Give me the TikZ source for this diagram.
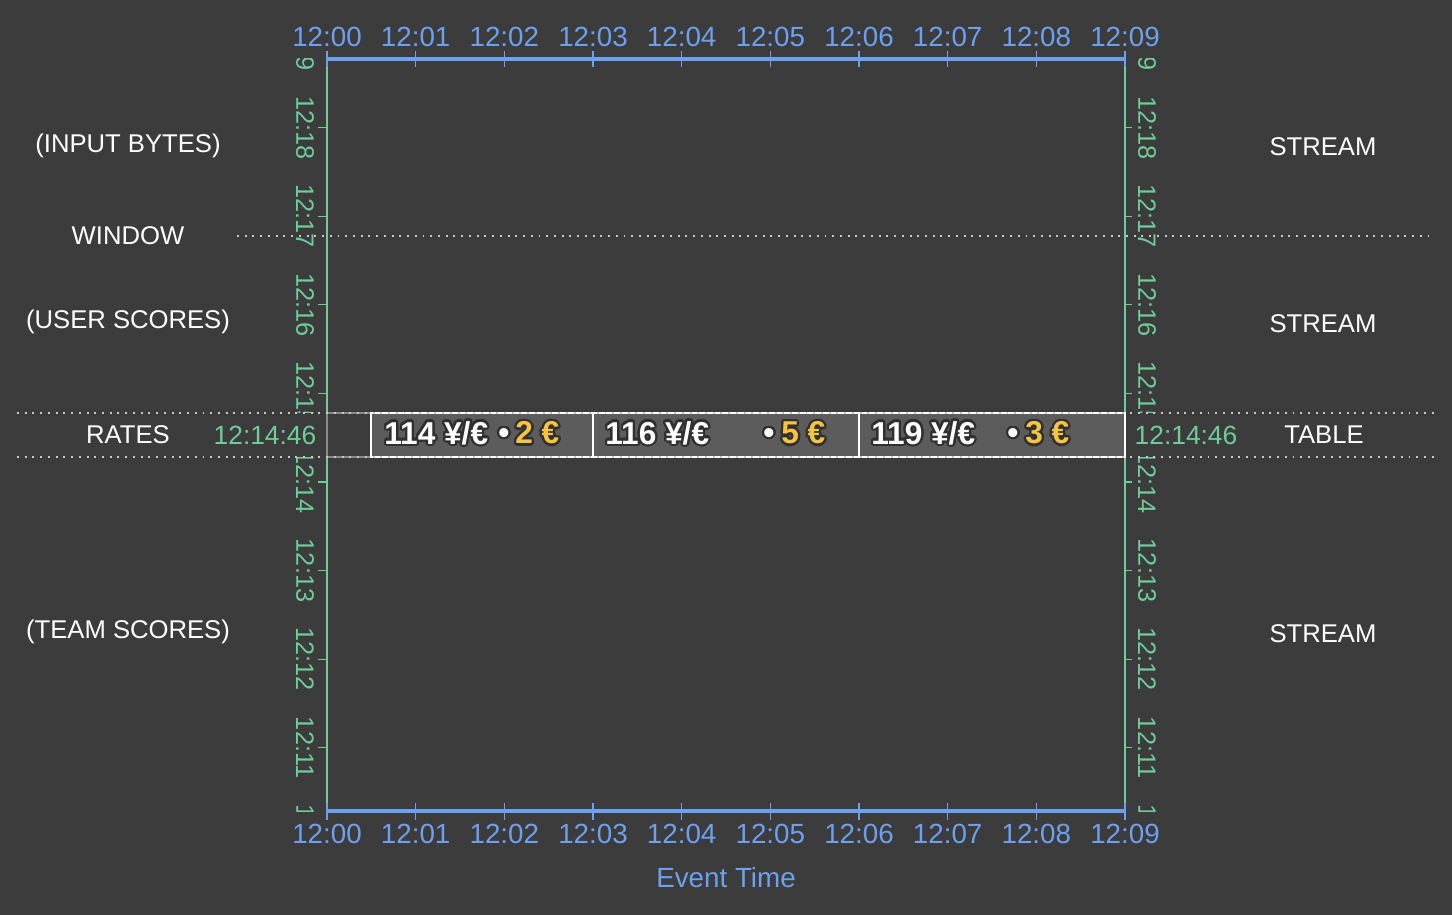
\documentclass[tikz,border=0pt]{standalone}
\usepackage{fontspec}
\setmainfont{Liberation Sans}
\usepackage[copies]{contour}
\contourlength{1.3pt}
\contournumber{24}

\definecolor{fond}{RGB}{60,60,60}
\definecolor{bleuTemps}{RGB}{110,160,240}
\definecolor{vertTraite}{RGB}{112,204,154}
\definecolor{grisCase}{RGB}{92,92,92}
\definecolor{jauneMontant}{RGB}{246,196,66}
\definecolor{ombre}{RGB}{48,48,48}
\definecolor{pointille}{RGB}{200,200,200}

\tikzset{
  etiquette/.style={text=white, font=\fontsize{14.6}{17}\selectfont},
  heureX/.style={text=bleuTemps, font=\fontsize{15.8}{18}\selectfont},
  heureY/.style={text=vertTraite, font=\fontsize{14.4}{17}\selectfont, rotate=-90},
  heureT/.style={text=vertTraite, font=\fontsize{15}{18}\selectfont},
  taux/.style={text=white, font=\bfseries\fontsize{18}{21}\selectfont, inner sep=0pt, anchor=west},
  separation/.style={pointille, line width=1.1pt, dash pattern=on 1.1pt off 3.3pt},
}

\begin{document}
\begin{tikzpicture}[x=0.02cm, y=-0.02cm]

  % Cadre (en pixels)
  \def\xg{327}      % 12:00
  \def\xd{1125}     % 12:09
  \def\yh{59}       % haut
  \def\yb{811}      % bas
  \def\pasX{88.667} % une minute (temps d'evenement)
  \def\pasY{88.57}  % une minute (temps de traitement)
  \def\yA{413}      % bande des taux
  \def\yB{457}

  \path[use as bounding box, fill=fond] (0,0) rectangle (1452,915);

  \coordinate (NO) at (\xg,\yh);
  \coordinate (NE) at (\xd,\yh);
  \coordinate (SO) at (\xg,\yb);
  \coordinate (SE) at (\xd,\yb);

  % ==============================================
  % Axes verticaux : temps de traitement
  % ==============================================
  \draw[vertTraite, line width=1.4pt] (NO) -- (SO);
  \draw[vertTraite, line width=1.4pt] (NE) -- (SE);
  \foreach \mn in {11,...,18} {
    \pgfmathsetmacro{\y}{127.7+(18-\mn)*\pasY}
    \draw[vertTraite, line width=0.6pt] (\xg-9,\y) -- (\xg,\y);
    \draw[vertTraite, line width=0.6pt] (\xd,\y) -- (\xd+7,\y);
  }
  \begin{scope}
    \clip (0,\yh) rectangle (1452,\yb);
    \foreach \mn in {10,...,19} {
      \pgfmathsetmacro{\y}{127.7+(18-\mn)*\pasY}
      \node[heureY] (g\mn) at (305,\y) {12:\mn};
      \node[heureY] (d\mn) at (1147,\y) {12:\mn};
    }
  \end{scope}

  % ==============================================
  % Axes horizontaux : temps d'evenement
  % ==============================================
  \draw[bleuTemps, line width=2.3pt] (NO) -- (NE);
  \draw[bleuTemps, line width=2.3pt] (SO) -- (SE);
  \foreach \i in {0,...,9} {
    \pgfmathsetmacro{\x}{\xg+\i*\pasX}
    \draw[bleuTemps, line width=0.6pt] (\x,51) -- (\x,67);
    \draw[bleuTemps, line width=0.6pt] (\x,803) -- (\x,820);
    \node[heureX] (h\i) at (\x,37) {12:0\i};
    \node[heureX] (b\i) at (\x,834) {12:0\i};
  }
  \node[heureX] (axe) at (726,878) {Event Time};

  % ==============================================
  % Bande des taux (table)
  % ==============================================
  \fill[fond] (17,\yA) rectangle (1435,\yB);
  \draw[gray!90, line width=0.6pt, fill=fond] (\xg,\yA) rectangle (371,\yB);
  \foreach \a/\b in {371/593, 593/859, 859/1125} {
    \draw[white, line width=0.8pt, fill=grisCase] (\a,\yA) rectangle (\b,\yB);
  }
  \foreach \valeur/\xt/\xp/\somme/\xm [count=\k] in {114/384/504/2/515, 116/605/769/5/781, 119/871/1013/3/1025} {
    \node[taux] (taux\k) at (\xt,434) {\contour{ombre}{\valeur{} ¥/€}};
    \node[taux, anchor=center] (point\k) at (\xp,437) {\contour{ombre}{•}};
    \node[taux, text=jauneMontant] (montant\k) at (\xm,434) {\contour{ombre}{\somme{} €}};
  }

  % Lignes pointillees
  \draw[separation] (237,236) -- (1435,236);
  \draw[separation] (17,\yA) -- (1435,\yA);
  \draw[separation] (17,\yB) -- (1435,\yB);

  % ==============================================
  % Etiquettes des lignes
  % ==============================================
  \node[etiquette] (entree) at (128,146) {(INPUT BYTES)};
  \node[etiquette] (fenetre) at (128,236) {WINDOW};
  \node[etiquette] (joueurs) at (128,322) {(USER SCORES)};
  \node[etiquette] (rates) at (128,435) {RATES};
  \node[etiquette] (equipes) at (128,632) {(TEAM SCORES)};
  \node[etiquette] (flux1) at (1323,147) {STREAM};
  \node[etiquette] (flux2) at (1323,324) {STREAM};
  \node[etiquette] (table) at (1324,435) {TABLE};
  \node[etiquette] (flux3) at (1323,634) {STREAM};
  \node[heureT] (tg) at (265,435) {12:14:46};
  \node[heureT] (td) at (1186,435) {12:14:46};

\end{tikzpicture}
\end{document}
